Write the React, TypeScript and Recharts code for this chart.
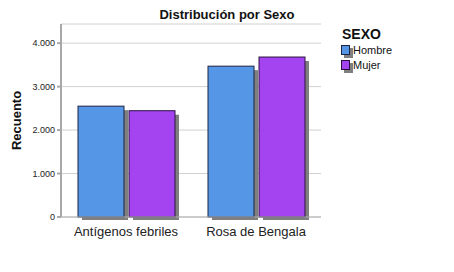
import { BarChart, Bar, XAxis, YAxis, CartesianGrid } from 'recharts';

const categories = ['Antígenos febriles', 'Rosa de Bengala'];
const hombre = [2550, 3470];
const mujer = [2445, 3680];
const seriesNames = ['Hombre', 'Mujer'];
const yTicks = [0, 1000, 2000, 3000, 4000];

const data = categories.map((c, i) => ({ name: c, Hombre: hombre[i], Mujer: mujer[i] }));

const COLORS = ['#5596e6', '#a444f0'];
const STROKES = ['#1c2440', '#2a1040'];
const FONT = 'Arial, "Liberation Sans", sans-serif';

const fmt = (v: number) => v.toLocaleString('de-DE');

const shadowBar = (fill: string, stroke: string) => (props: any) => {
  const { x, y, width, height } = props;
  return (
    <g>
      <rect x={x + 4} y={y + 4} width={width} height={height - 1} fill="#7f7f7f" />
      <rect x={x} y={y} width={width} height={height} fill={fill} stroke={stroke} strokeWidth={1} />
    </g>
  );
};

const LegendBox = () => (
  <div style={{ position: 'absolute', left: 341, top: 26, fontFamily: FONT, color: '#111' }}>
    <div style={{ fontWeight: 'bold', fontSize: 14, marginLeft: 1, marginBottom: 3 }}>SEXO</div>
    {seriesNames.map((n, i) => (
      <div key={n} style={{ position: 'relative', height: 15, fontSize: 11 }}>
        <div style={{ position: 'absolute', left: 3, top: 3, width: 9, height: 10, background: '#7f7f7f' }} />
        <div style={{ position: 'absolute', left: 0, top: 0, width: 9, height: 10, background: COLORS[i], border: `1px solid ${STROKES[i]}`, boxSizing: 'border-box' }} />
        <span style={{ position: 'absolute', left: 12, top: -1 }}>{n}</span>
      </div>
    ))}
  </div>
);

export default function App() {
  return (
    <div style={{ position: 'absolute', left: 0, top: 0, width: 454, height: 272, background: '#fff' }}>
      <div style={{ position: 'absolute', left: 0, width: 454, top: 7, textAlign: 'center', fontFamily: FONT, fontWeight: 'bold', fontSize: 13, color: '#111' }}>
        Distribución por Sexo
      </div>
      <BarChart
        width={454}
        height={272}
        data={data}
        margin={{ top: 24, right: 133, bottom: 0, left: 0 }}
        barGap={5}
        barCategoryGap={17}
      >
        <CartesianGrid horizontal vertical={false} stroke="#d0d0d0" />
        <XAxis
          dataKey="name"
          height={55}
          stroke="#b0b0b0"
          tickLine={false}
          interval={0}
          tick={{ fontSize: 13, fill: '#222', fontFamily: FONT }}
          tickMargin={4}
        />
        <YAxis
          width={61}
          domain={[0, 4440]}
          ticks={yTicks}
          tickFormatter={fmt}
          stroke="#a8a8a8"
          strokeWidth={2}
          tickSize={4}
          tick={{ fontSize: 9, fill: '#222', fontFamily: FONT }}
          label={{ value: 'Recuento', angle: -90, position: 'insideLeft', offset: 16, style: { fontSize: 13, fontWeight: 'bold', fill: '#111', fontFamily: FONT, textAnchor: 'middle' } }}
        />
        <Bar dataKey="Hombre" isAnimationActive={false} shape={shadowBar(COLORS[0], STROKES[0])} />
        <Bar dataKey="Mujer" isAnimationActive={false} shape={shadowBar(COLORS[1], STROKES[1])} />
      </BarChart>
      <LegendBox />
    </div>
  );
}
